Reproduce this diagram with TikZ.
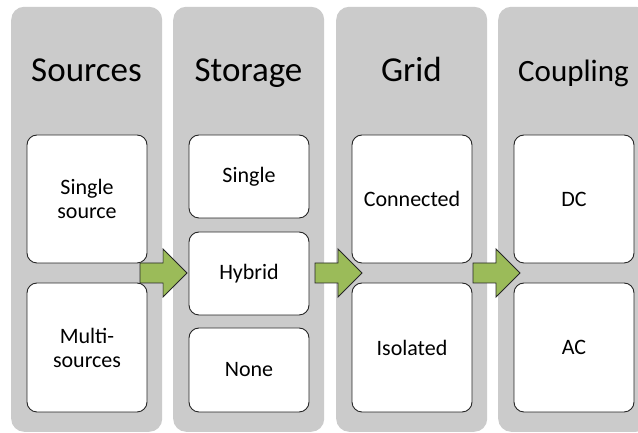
\documentclass[tikz,border=0pt]{standalone}
\usepackage{fontspec}
\setmainfont{Carlito}
\definecolor{colgray}{HTML}{CBCBCB}
\definecolor{arrowgreen}{HTML}{9BBB59}
\begin{document}
\begin{tikzpicture}[x=1pt,y=1pt,
  column/.style={fill=colgray, draw=none, rounded corners=13pt, minimum width=151pt, minimum height=425pt, inner sep=0pt, anchor=south west},
  box/.style={draw=black!85, line width=0.9pt, fill=white, rounded corners=10pt, minimum width=120pt, align=center, inner sep=0pt, font=\fontsize{22}{24}\selectfont},
  title/.style={anchor=base, inner sep=0pt, font=\fontsize{35}{40}\selectfont},
  blockarrow/.style={fill=arrowgreen, draw=black!85, line width=0.9pt, line join=miter},
  barrow/.pic={\draw[blockarrow] (0,10) -- (23,10) -- (23,24) -- (47,0) -- (23,-24) -- (23,-10) -- (0,-10) -- cycle;}]
\useasboundingbox (0,0) rectangle (638,433);
\begin{scope}
\clip (0,0) rectangle (638,433);
\node[column] (c1) at (11,1) {};
\node[column] (c2) at (173,1) {};
\node[column] (c3) at (336,1) {};
\node[column] (c4) at (498,1) {};
\end{scope}
\node[title] (t1) at (86.5,351) {Sources};
\node[title] (t2) at (248.5,351) {Storage};
\node[title] (t3) at (411.5,351) {Grid};
\node[title, font=\fontsize{31}{36}\selectfont] (t4) at (573.5,351) {Coupling};
% column 1
\node[box, minimum height=128pt] (s1) at (87,234) {Single\\source};
\node[box, minimum height=129pt] (s2) at (87,85.5) {Multi-\\sources};
% column 2
\node[box, minimum height=83pt] (g1) at (249,256.5) {Single};
\node[box, minimum height=83pt] (g2) at (249,159.5) {Hybrid};
\node[box, minimum height=84pt] (g3) at (249,63) {None};
% column 3
\node[box, minimum height=128pt] (r1) at (412,234) {Connected};
\node[box, minimum height=129pt] (r2) at (412,85.5) {Isolated};
% column 4
\node[box, minimum height=128pt] (p1) at (574,234) {DC};
\node[box, minimum height=129pt] (p2) at (574,85.5) {AC};
% arrows
\pic at (140,160) {barrow};
\pic at (315,160) {barrow};
\pic at (473,160) {barrow};
\end{tikzpicture}
\end{document}
